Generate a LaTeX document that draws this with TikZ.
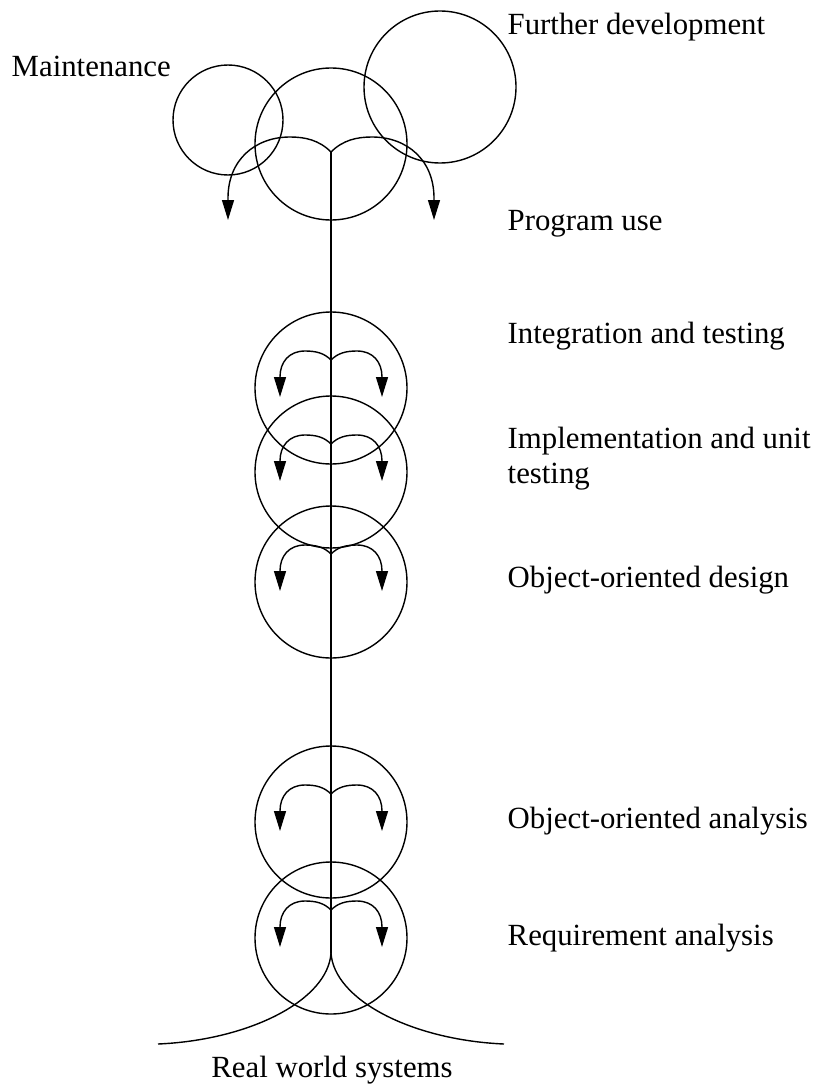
\documentclass[tikz,border=0pt]{standalone}
\usepackage{fontspec}
\setmainfont{Liberation Serif}
\usetikzlibrary{arrows.meta}
\tikzset{
  ring/.style={draw, circle, inner sep=0pt, outer sep=0pt},
  lab/.style={font=\fontsize{15.4}{17.5}\selectfont, anchor=base west, inner sep=0pt},
  flowarrow/.style={-{Triangle[length=10pt,width=6pt]}},
}
\begin{document}
\begin{tikzpicture}[x=0.5pt,y=-0.5pt,line width=0.7pt]
\useasboundingbox (0,0) rectangle (817,1086);
% top circles
\node[ring, minimum size=55pt] (maint) at (228,120) {};
\node[ring, minimum size=76pt] (use) at (331,144) {};
\node[ring, minimum size=76pt] (further) at (440,87) {};
% stage circles
\node[ring, minimum size=76pt] (integ) at (331,388) {};
\node[ring, minimum size=76pt] (impl) at (331,472) {};
\node[ring, minimum size=76pt] (ood) at (331,582) {};
\node[ring, minimum size=76pt] (ooa) at (331,822) {};
\node[ring, minimum size=76pt] (req) at (331,938) {};
% cusps
\coordinate (topcusp) at (331,152);
\coordinate (botcusp) at (331,953);
\coordinate (lend) at (158,1044);
\coordinate (rend) at (504,1044);
% central line
\draw (topcusp) -- (botcusp);
% bottom curves
\draw (botcusp) .. controls (328,1000) and (250,1040) .. (lend);
\draw (botcusp) .. controls (334,1000) and (412,1040) .. (rend);
% top arrows
\draw[flowarrow] (topcusp) .. controls (319,140) and (305,137) .. (290,137)
  .. controls (255,137) and (228,160) .. (228,198) -- (228,220);
\draw[flowarrow] (topcusp) .. controls (343,140) and (357,137) .. (372,137)
  .. controls (407,137) and (434,160) .. (434,198) -- (434,220);
% small arrow pairs
\foreach \n in {integ,impl,ood,ooa,req}{
  \draw[flowarrow] ([yshift=14pt]\n.center) .. controls ++(-7,-7) and ++(11,0) .. ([xshift=-13pt,yshift=18.5pt]\n.center)
    .. controls ++(-16,0) and ++(0,-15) .. ([xshift=-25.5pt,yshift=5.5pt]\n.center) -- ([xshift=-25.5pt,yshift=-4.5pt]\n.center);
  \draw[flowarrow] ([yshift=14pt]\n.center) .. controls ++(7,-7) and ++(-11,0) .. ([xshift=13pt,yshift=18.5pt]\n.center)
    .. controls ++(16,0) and ++(0,-15) .. ([xshift=25.5pt,yshift=5.5pt]\n.center) -- ([xshift=25.5pt,yshift=-4.5pt]\n.center);
}
% labels
\node[lab] (tfurther) at (507,35) {Further development};
\node[lab] (tmaint) at (11,76) {Maintenance};
\node[lab] (tuse) at (507,230) {Program use};
\node[lab] (tinteg) at (507,343) {Integration and testing};
\node[lab] (timpl) at (507,448) {Implementation and unit};
\node[lab] (timpl2) at (507,483) {testing};
\node[lab] (tood) at (507,587) {Object-oriented design};
\node[lab] (tooa) at (507,828) {Object-oriented analysis};
\node[lab] (treq) at (507,945) {Requirement analysis};
\node[lab, anchor=base] (treal) at (332,1077) {Real world systems};
\end{tikzpicture}
\end{document}
